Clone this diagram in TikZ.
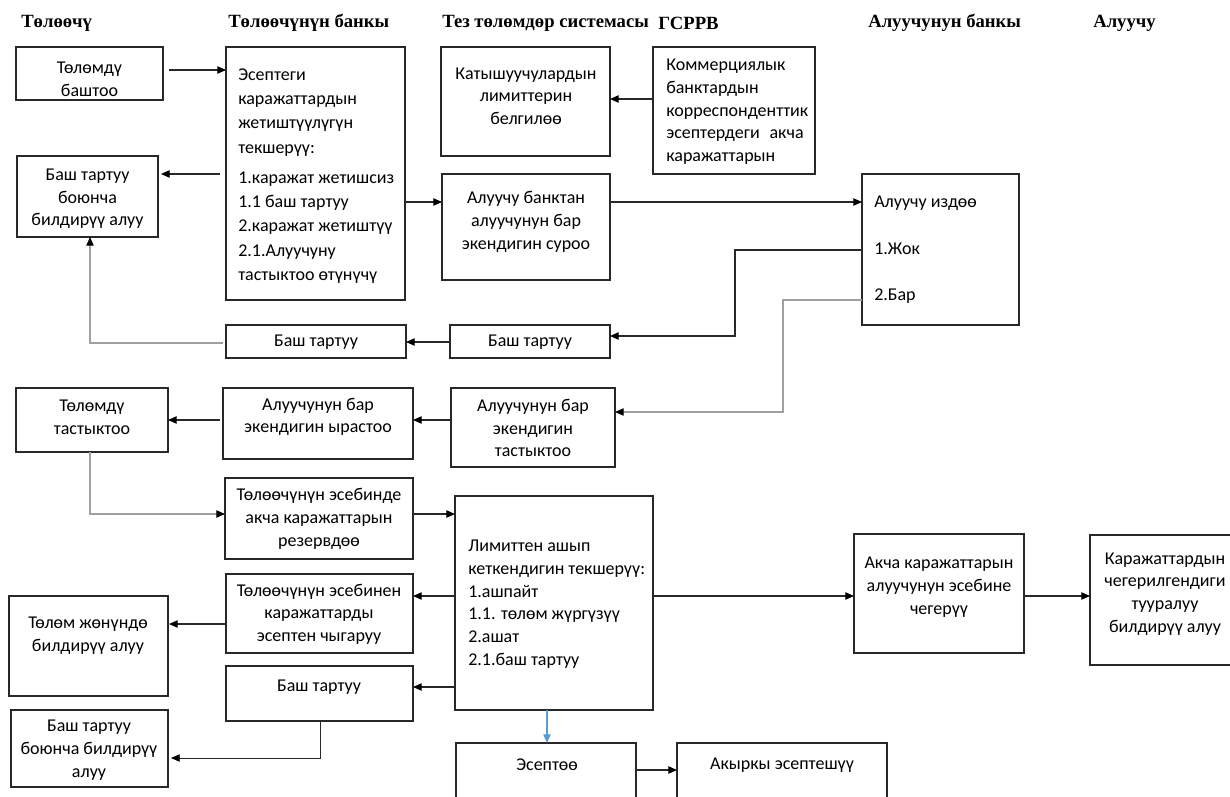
\documentclass[tikz,border=0pt]{standalone}
\usepackage{fontspec}
\setmainfont{Carlito}
\newfontfamily\hdfont{Liberation Serif}
\usetikzlibrary{arrows.meta,calc}
\definecolor{lgray}{RGB}{160,160,160}
\definecolor{lblue}{RGB}{91,155,213}
\definecolor{dline}{RGB}{40,40,40}
\newcommand\mkbox[5]{\node[box, minimum width={(#4-#2)*0.75pt}, minimum height={(#5-#3)*0.75pt}] (#1) at ({(#2+#4)/2},{(#3+#5)/2}) {};}
\tikzset{
  box/.style={draw=dline, line width=0.9pt, inner sep=0pt, outer sep=0pt},
  txt/.style={font=\fontsize{13.5}{17}\selectfont, align=center, inner sep=0pt, text=black},
  ltxt/.style={txt, align=left, anchor=west},
  hd/.style={font=\hdfont\bfseries\fontsize{14}{17}\selectfont, inner sep=0pt, anchor=west},
  tip/.style={-{Triangle[length=6.5pt,width=5.5pt,color=black]}},
  arr/.style={draw=dline, line width=0.9pt, tip},
  garr/.style={draw=lgray, line width=0.8pt, tip},
  barr/.style={draw=lblue, line width=0.9pt, -{Triangle[length=6.5pt,width=5.5pt]}}
}
\begin{document}
\begin{tikzpicture}[x=0.75pt,y=-0.75pt]
\useasboundingbox (0,0) rectangle (1230,796);
\clip (0,0) rectangle (1230,796);
% headers
\node[hd] (h1) at (21,23) {Төлөөчү};
\node[hd] (h2) at (228,23) {Төлөөчүнүн банкы};
\node[hd] (h3) at (442,23) {Тез төлөмдөр системасы};
\node[hd] (h4) at (658,23) {ГСРРВ};
\node[hd] (h5) at (868,23) {Алуучунун банкы};
\node[hd] (h6) at (1093,23) {Алуучу};
% boxes
\mkbox{b1}{16}{47}{163}{100}
\mkbox{b2}{226}{47}{405}{300}
\mkbox{b3}{17}{156}{158}{237}
\mkbox{b4}{441}{47}{610}{156}
\mkbox{b5}{653}{47}{815}{174}
\mkbox{b6}{442}{174}{610}{280}
\mkbox{b7}{862}{174}{1019}{325}
\mkbox{b8}{450}{325}{610}{358}
\mkbox{b9}{226}{325}{406}{358}
\mkbox{b10}{451}{388}{615}{467}
\mkbox{b11}{223}{388}{413}{459}
\mkbox{b12}{16}{388}{168}{452}
\mkbox{b13}{225}{478}{413}{559}
\mkbox{b14}{455}{496}{653}{710}
\mkbox{b15}{226}{574}{413}{653}
\mkbox{b16}{226}{666}{413}{721}
\mkbox{b17}{854}{534}{1024}{653}
\mkbox{b18}{1090}{535}{1240}{665}
\mkbox{b19}{9}{596}{168}{696}
\mkbox{b20}{11}{710}{168}{787}
\mkbox{b21}{456}{743}{636}{810}
\mkbox{b22}{677}{743}{887}{810}
% texts
\node[txt] (t1) at (89.5,79) {Төлөмдү\\баштоо};
\node[ltxt, font=\fontsize{13.5}{18.2}\selectfont] (t2) at (238,176) {Эсептеги\\каражаттардын\\жетиштүүлүгүн\\текшерүү:\\[4.5pt]1.каражат жетишсиз\\1.1 баш тартуу\\2.каражат жетиштүү\\2.1.Алуучуну\\тастыктоо өтүнүчү};
\node[txt] (t3) at (87.5,199) {Баш тартуу\\боюнча\\билдирүү алуу};
\node[txt] (t4) at (526,96) {Катышуучулардын\\лимиттерин\\белгилөө};
\node[ltxt, text width=103pt] (t5) at (666,112) {Коммерциялык\\банктардын\\корреспонденттик\\эсептердеги\hfill акча\\каражаттарын};
\node[txt] (t6) at (526,222) {Алуучу банктан\\алуучунун бар\\экендигин суроо};
\node[ltxt, font=\fontsize{13.5}{34.9}\selectfont] (t7) at (874,250) {Алуучу издөө\\1.Жок\\2.Бар};
\node[txt] (t8) at (530,342) {Баш тартуу};
\node[txt] (t9) at (316,342) {Баш тартуу};
\node[txt] (t10) at (533,428) {Алуучунун бар\\экендигин\\тастыктоо};
\node[txt] (t11) at (318,417) {Алуучунун бар\\экендигин ырастоо};
\node[txt] (t12) at (92,417) {Төлөмдү\\тастыктоо};
\node[txt] (t13) at (319,519) {Төлөөчүнүн эсебинде\\акча каражаттарын\\резервдөө};
\node[ltxt] (t14) at (468,604) {Лимиттен ашып\\кеткендигин текшерүү:\\1.ашпайт\\1.1. төлөм жүргүзүү\\2.ашат\\2.1.баш тартуу};
\node[txt] (t15) at (319,614) {Төлөөчүнүн эсебинен\\каражаттарды\\эсептен чыгаруу};
\node[txt] (t16) at (319,687) {Баш тартуу};
\node[txt] (t17) at (939,587) {Акча каражаттарын\\алуучунун эсебине\\чегерүү};
\node[txt] (t18) at (1165,594) {Каражаттардын\\чегерилгендиги\\тууралуу\\билдирүү алуу};
\node[txt] (t19) at (88,636) {Төлөм жөнүндө\\билдирүү алуу};
\node[txt] (t20) at (89,750) {Баш тартуу\\боюнча билдирүү\\алуу};
\node[txt] (t21) at (547,765) {Эсептөө};
\node[txt] (t22) at (782,765) {Акыркы эсептешүү};
% connectors
\draw[arr] ($(b1.east |- 0,70)+(6,0)$) -- (b2.west |- 0,70);
\draw[arr] ($(b2.west |- 0,174)+(-6,0)$) -- ($(b3.east |- 0,174)+(3,0)$);
\draw[arr] (b2.east |- 0,202) -- (b6.west |- 0,202);
\draw[arr] (b5.west |- 0,99) -- (b4.east |- 0,99);
\draw[arr] (b6.east |- 0,202) -- (b7.west |- 0,202);
\draw[arr] (b7.west |- 0,250) -| (735,336) -- (b8.east |- 0,336);
\draw[garr] (b7.west |- 0,300) -| (783,412) -- (b10.east |- 0,412);
\draw[arr] (b8.west |- 0,342) -- (b9.east |- 0,342);
\draw[garr] ($(b9.west |- 0,343)+(-3,0)$) -| (b3.south -| 90,0);
\draw[arr] (b10.west |- 0,420) -- (b11.east |- 0,420);
\draw[arr] ($(b11.west |- 0,420)+(-3,0)$) -- (b12.east |- 0,420);
\draw[garr] (b12.south -| 90,0) |- (b13.west |- 0,514);
\draw[arr] (b13.east |- 0,514) -- (b14.west |- 0,514);
\draw[arr] (b14.west |- 0,596) -- (b15.east |- 0,596);
\draw[arr] (b14.west |- 0,687) -- (b16.east |- 0,687);
\draw[arr] (b14.east |- 0,596) -- (b17.west |- 0,596);
\draw[arr] (b17.east |- 0,596) -- (b18.west |- 0,596);
\draw[arr] (b15.west |- 0,624) -- ($(b19.east |- 0,624)+(1,0)$);
\draw[arr, line width=0.6pt] (b16.south -| 320,0) |- ($(b20.east |- 0,758)+(3,0)$);
\draw[barr] (b14.south -| 547,0) -- (b21.north -| 547,0);
\draw[arr] (b21.east |- 0,770) -- (b22.west |- 0,770);
\end{tikzpicture}
\end{document}
